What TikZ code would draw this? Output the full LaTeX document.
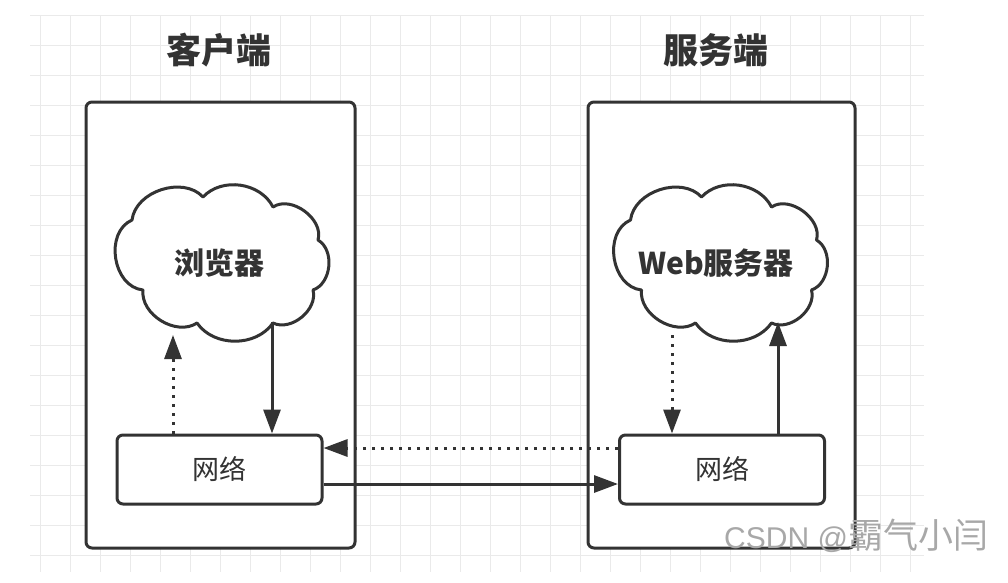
\documentclass[tikz,border=0pt]{standalone}
\usepackage{fontspec}
\newfontfamily\cjk{Noto Sans CJK SC}
\newfontfamily\wmfont{Liberation Sans}
\usetikzlibrary{arrows.meta}
\definecolor{ink}{HTML}{333333}
\definecolor{gridc}{HTML}{EAEAEA}
\definecolor{wm}{HTML}{A8A8A8}
\tikzset{
  gridline/.style={draw=gridc, line width=1pt},
  side/.style={draw=ink, line width=3pt, rounded corners=6pt},
  netbox/.style={draw=ink, line width=3pt, rounded corners=6pt, minimum width=205pt, minimum height=69pt, inner sep=0pt, font=\cjk\fontsize{27}{30}\selectfont, text=ink},
  cloudline/.style={draw=ink, line width=3pt, line join=round},
  cloudtext/.style={inner sep=0pt, font=\cjk\bfseries\fontsize{30}{34}\selectfont, text=ink},
  title/.style={font=\cjk\bfseries\fontsize{35}{40}\selectfont, text=ink},
  flowarrow/.style={draw=ink, line width=3pt, arrows={-Triangle[length=24pt,width=17pt]}},
  dotflow/.style={flowarrow, dash pattern=on 3pt off 6pt},
}
\newcommand\mycloud[1]{%
  \begin{scope}[shift={#1}]
  \draw[cloudline] (-85.5,-42) to[bend left=65] (-14.5,-65) to[bend left=55] (55.5,-55)
     to[bend left=70] (100.5,-22) to[bend left=65] (95.5,28) to[bend left=65] (55.5,61)
     to[bend left=55] (-20.5,61) to[bend left=65] (-74.5,28) to[bend left=75,looseness=1.1] (-85.5,-42) -- cycle;
  \end{scope}}
\begin{document}
\begin{tikzpicture}[x=1pt,y=-1pt]
\useasboundingbox (0,0) rectangle (1008,582);
\fill[white] (0,0) rectangle (1008,582);
\foreach \x in {40,70,...,910} \draw[gridline] (\x,15) -- (\x,572);
\foreach \y in {15,45,...,555} \draw[gridline] (30,\y) -- (924,\y);

\node[title] (tl) at (219,50) {客户端};
\node[title] (tr) at (716,50) {服务端};

\draw[side, fill=white] (86,102) rectangle (355,548);
\draw[side, fill=white] (588,102) rectangle (855,548);

\mycloud{(217.5,262)}
\mycloud{(716,262)}
\node[cloudtext] (cl) at (219,263) {浏览器};
\node[cloudtext] (cr) at (716,263) {Web服务器};

\node[netbox] (nl) at (219.5,469.5) {网络};
\node[netbox] (nr) at (722,469.5) {网络};

\coordinate (clA) at (173,335);
\coordinate (clB) at (272,322);
\coordinate (crA) at (672,335);
\coordinate (crB) at (778,322);

\draw[dotflow] (nl.north -| clA) -- (clA);
\draw[flowarrow] (clB) -- (nl.north -| clB);
\draw[dotflow] (crA) -- (nr.north -| crA);
\draw[flowarrow] (nr.north -| crB) -- (crB);
\draw[dotflow] (nr.west |- 0,448) -- (nl.east |- 0,448);
\draw[flowarrow] (nl.east |- 0,484) -- (nr.west |- 0,484);

\node[anchor=base west, text=wm, inner sep=0pt, font=\wmfont\fontsize{30}{34}\selectfont] (wmk) at (724,548) {CSDN @{\cjk\fontsize{35}{38}\selectfont 霸气小闫}};
\end{tikzpicture}
\end{document}
